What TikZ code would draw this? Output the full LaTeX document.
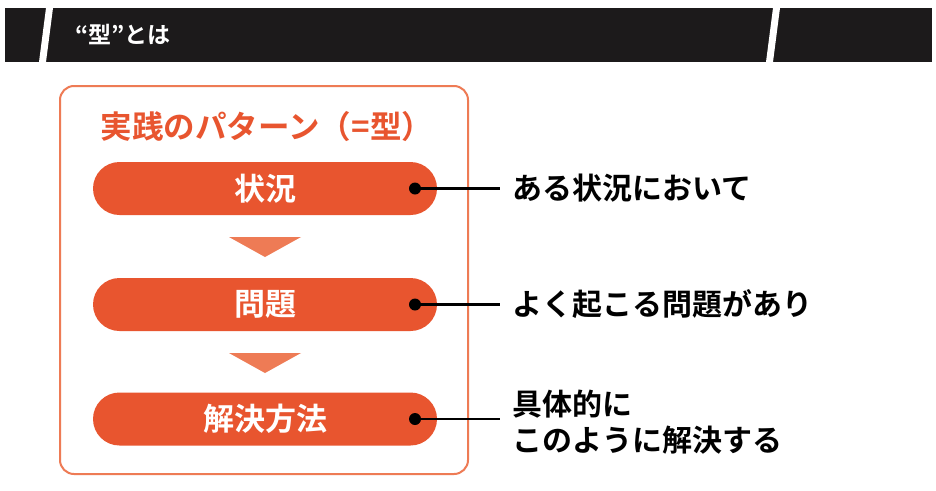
\documentclass[tikz,border=0pt]{standalone}
\usepackage{fontspec}
\setmainfont{Noto Sans CJK JP}[BoldFont={Noto Sans CJK JP Bold}]
\definecolor{pill}{HTML}{E8552F}
\definecolor{tri}{HTML}{EE7B55}
\definecolor{frame}{HTML}{EE7B55}
\definecolor{band}{HTML}{1C1A1B}
\begin{document}
\begin{tikzpicture}[x=1pt,y=-1pt,
  pill/.style={fill=pill,rounded corners=26.5pt,minimum width=344pt,minimum height=53pt,inner sep=0pt,text=white,font=\bfseries\fontsize{31}{31}\selectfont},
  lbl/.style={anchor=west,font=\bfseries\fontsize{30}{36}\selectfont,align=left,inner sep=0pt},
  dot/.style={circle,fill=black,minimum size=12pt,inner sep=0pt},
  con/.style={line width=2.4pt,black}]
\useasboundingbox (0,0) rectangle (936,490);
\fill[white] (0,0) rectangle (936,490);
\fill[band] (5,8) rectangle (932,62);
\fill[white] (46,8) -- (53,8) -- (46,62) -- (39,62) -- cycle;
\fill[white] (773,8) -- (780,8) -- (773,62) -- (766,62) -- cycle;
\node[anchor=west,text=white,font=\bfseries\fontsize{23}{23}\selectfont,inner sep=0pt] (title) at (75,35) {“型”とは};
\draw[frame,line width=2pt,rounded corners=14pt] (60,86) rectangle (468,474);
\node[text=pill,font=\bfseries\fontsize{31.5}{31.5}\selectfont] (head) at (267,127) {実践のパターン（=型）};
\node[pill] (p1) at (265,188.5) {状況};
\node[pill] (p2) at (265,304.5) {問題};
\node[pill] (p3) at (265,419) {解決方法};
\fill[tri] (229,237) -- (301,237) -- (265,257) -- cycle;
\fill[tri] (229,353) -- (301,353) -- (265,373) -- cycle;
\node[dot] (d1) at (415,188.5) {};
\node[dot] (d2) at (415,304.5) {};
\node[dot] (d3) at (415,419) {};
\node[lbl] (t1) at (512,188.5) {ある状況において};
\node[lbl] (t2) at (512,304.5) {よく起こる問題があり};
\node[lbl] (t3) at (512,422) {具体的に\\このように解決する};
\draw[con] (d1.center) -- (t1.west -| 500,0);
\draw[con] (d2.center) -- (t2.west -| 500,0);
\draw[con] (d3.center) -- (500,419);
\end{tikzpicture}
\end{document}
